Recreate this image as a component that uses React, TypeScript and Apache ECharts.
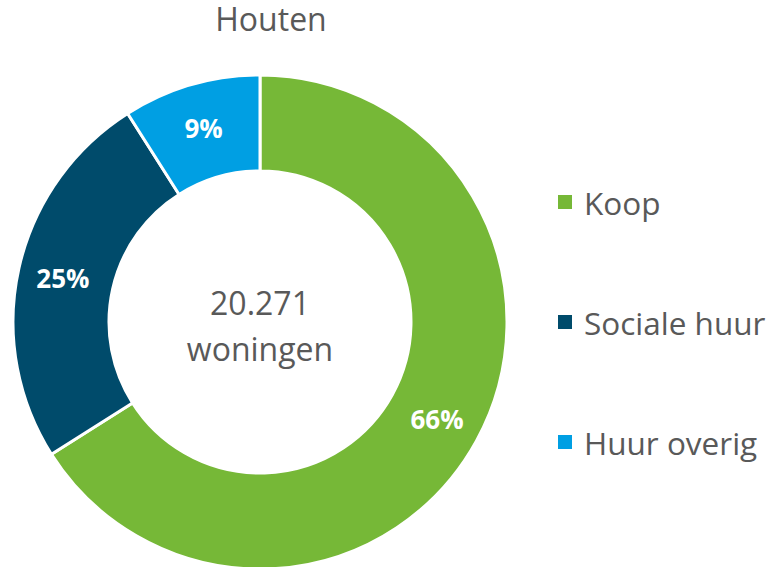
import React, { useEffect, useRef } from "react";
import * as echarts from "echarts";

const title = "Houten";
const categories = ["Koop", "Sociale huur", "Huur overig"];
const values = [66, 25, 9];
const colors = ["#76B837", "#004B6B", "#009FE3"];
const centerLines = ["20.271", "woningen"];

const FONT = "'Open Sans', 'Noto Sans', sans-serif";

export default function App() {
  const ref = useRef<HTMLDivElement>(null);
  useEffect(() => {
    if (!ref.current) return;
    const chart = echarts.init(ref.current, undefined, { renderer: "svg" });
    chart.setOption({
      animation: false,
      backgroundColor: "#ffffff",
      title: {
        text: title,
        left: 266,
        top: 0,
        padding: [2, 5, 5, 5],
        textAlign: "center",
        textStyle: { fontFamily: FONT, fontSize: 32, fontWeight: "normal", color: "#595959" },
      },
      legend: {
        orient: "vertical",
        left: 551,
        top: 177,
        icon: "rect",
        itemWidth: 16,
        itemHeight: 16,
        itemGap: 80,
        data: categories,
        textStyle: {
          fontFamily: FONT,
          fontSize: 31.5,
          color: "#595959",
          lineHeight: 40,
          padding: [0, 0, 0, 6],
        },
      },
      graphic: [
        {
          type: "text",
          x: 260,
          y: 302,
          style: {
            text: centerLines[0],
            fontFamily: FONT,
            fontSize: 32,
            fill: "#595959",
            align: "center",
            verticalAlign: "middle",
          },
        },
        {
          type: "text",
          x: 260,
          y: 348,
          style: {
            text: centerLines[1],
            fontFamily: FONT,
            fontSize: 32,
            fill: "#595959",
            align: "center",
            verticalAlign: "middle",
          },
        },
      ],
      series: [
        {
          type: "pie",
          center: [260, 322],
          radius: [151, 247],
          startAngle: 90,
          clockwise: true,
          avoidLabelOverlap: false,
          itemStyle: { borderColor: "#ffffff", borderWidth: 3 },
          label: {
            show: true,
            position: "inside",
            formatter: "{c}%",
            color: "#ffffff",
            fontFamily: FONT,
            fontSize: 26,
            fontWeight: "bold",
          },
          labelLine: { show: false },
          emphasis: { disabled: true },
          data: categories.map((name, i) => ({
            name,
            value: values[i],
            itemStyle: { color: colors[i] },
          })),
        },
      ],
    });
    return () => chart.dispose();
  }, []);
  return (
    <div
      ref={ref}
      style={{ position: "absolute", left: 0, top: 0, width: 774, height: 567 }}
    />
  );
}
